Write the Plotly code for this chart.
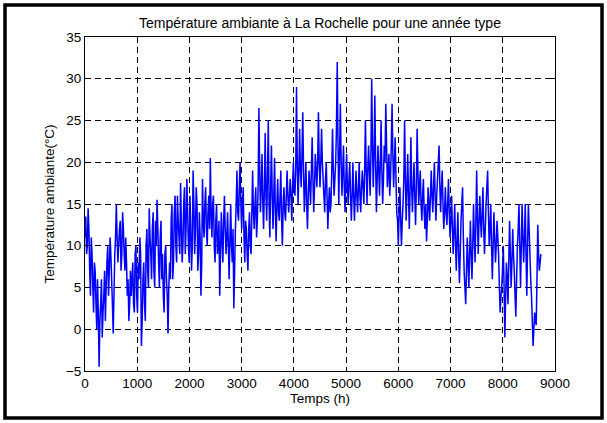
import plotly.graph_objects as go

# Ambient temperature over a typical year (°C).
# temp_c: readings every 30 h starting at 0 h;
# temp_c_mid: readings halfway between them (15 h, 45 h, ...).
step_h = 30
temp_c = [
    11, 9, 14.5, 7, 11, 5, 8, 3, 6, -4.5,
    3, -1, 4, 1, 8, 4, 11, 6, -0.5, 9,
    15, 8, 12, 7, 14, 9, 11, 4, 1, 7,
    6, 3, 9, 4, 8, 11, -2, 6, 3, 10,
    7, 14.5, 9, 12, 7, 13, 15.5, 8, 11, 6,
    4, 9, 6, -0.5, 8, 13, 6, 14, 10, 16,
    11, 17.5, 8, 15, 9, 18, 10, 16, 7, 19,
    9, 17, 7, 14, 4, 18, 11, 17, 10, 16,
    20.5, 11, 16, 8, 15, 10, 4, 14, 8, 16,
    9, 14, 6, 15, 8, 2.5, 12, 19, 13, 20,
    12, 17, 8, 12, 7, 14, 9, 19, 12, 17,
    13, 26.5, 14, 21, 12, 23.5, 13, 25, 11, 22,
    12, 20.5, 10.5, 18, 13, 19, 10, 17, 13, 19,
    14, 18, 13, 20, 16, 29, 15, 24, 17, 26,
    14, 20, 12, 19, 15, 23, 14, 21, 17, 26,
    17, 24, 18, 14, 20, 12, 17, 15, 24, 16,
    20, 32, 15, 27, 16, 22, 14, 21, 15, 20,
    13, 20, 13, 19, 14, 20, 14, 19, 15, 25,
    15, 22, 16, 30, 17, 28, 14, 22, 16, 25,
    15, 22, 27, 17, 21, 18, 27, 17, 23, 14,
    10, 17, 10, 15, 25, 13, 21, 12, 23, 14,
    20, 12.5, 24, 15, 19, 13, 18, 12, 10.5, 17,
    13, 19, 14, 20, 13, 18, 22, 14, 19, 12,
    17, 12.5, 18, 11, 16, 9, 15, 7, 14, 5.5,
    13, 17, 7, 3, 11, 5, 13, 6, 15, 8,
    19, 9, 16, 11, 17, 9, 15, 19, 10, 15,
    6, 14, 8, 13, 9, 2, 5, 10, -1, 8,
    3, 13, 5, 12, 7, 1.5, 10, 15, 5, 15,
    8, 15, 4, 15, 9, 4, -2, 2, 0.5, 12.5, 7, 9,
]
temp_c_mid = [
    13.5, 10, 12, 4, 9, 2, 7, 0, 2, 1,
    6, 2, 7, 5, 10, 7, 9, 3, 4, 11,
    11, 10, 13, 9, 12, 7, 8, 6, 3, 4,
    8, 2, 10, 2, 6, 9, 1, 8, 1, 12,
    5, 11, 6, 14, 5, 10, 12, 5, 13, 9,
    2, 10, 4, 5, 6, 15, 8, 16, 8, 13,
    9, 13, 10, 17, 12, 14, 8, 12, 10, 15,
    12, 15, 9, 11, 8, 13, 15, 12, 14, 12,
    14, 15, 10, 13, 9, 13, 9, 11, 13, 12,
    11, 10, 11, 10, 12, 7, 15, 14, 17, 15,
    15, 11, 13, 9, 12, 10, 14, 14, 15, 11,
    17, 19, 17, 15, 17, 16, 19, 15, 17, 16,
    16, 14, 15, 14, 16, 13, 15, 14, 16, 16,
    16, 16, 17, 17, 19, 20, 19, 19, 21, 19,
    17, 15, 16, 17, 19, 18, 17, 19, 20, 20,
    20, 20, 16, 18, 16, 15, 14, 19, 19, 18,
    24, 22, 21, 20, 19, 17, 18, 17, 18, 16,
    16, 16, 16, 16, 17, 16, 17, 17, 19, 19,
    19, 19, 21, 22, 21, 20, 18, 19, 20, 19,
    18, 20, 22, 19, 16, 22, 21, 20, 18, 13,
    14, 13, 13, 18, 18, 17, 16, 17, 17, 17,
    16, 17, 19, 17, 15, 16, 14, 15, 13, 15,
    16, 16, 17, 16, 16, 20, 17, 17, 15, 14,
    14, 15, 14, 13, 12, 12, 10, 11, 9, 9,
    15, 11, 5, 7, 8, 9, 9, 10, 11, 13,
    13, 13, 13, 14, 12, 12, 17, 14, 12, 10,
    10, 11, 10, 11, 5, 4, 7, 5, 4, 6,
    8, 9, 8, 9, 4, 6, 12, 10, 10, 11,
    11, 9, 10, 12, 6, 1, 0, 1, 6, 9, 8,
]

# Interleave the two readings into one time series
hours, temps = [], []
for i, t in enumerate(temp_c):
    hours.append(i * step_h)
    temps.append(t)
    if i < len(temp_c_mid):
        hours.append(i * step_h + step_h // 2)
        temps.append(temp_c_mid[i])

x_ticks = list(range(0, 9001, 1000))
y_ticks = list(range(-5, 36, 5))

font = dict(family="Liberation Sans, Arial, sans-serif", size=13.5, color="black")

fig = go.Figure(
    go.Scatter(x=hours, y=temps, mode="lines",
               line=dict(color="#0000ff", width=1.5, simplify=False))
)

axis_style = dict(
    showline=True, linecolor="black", linewidth=1, mirror="ticks",
    ticks="inside", ticklen=4, tickcolor="black", tickwidth=1,
    showgrid=True, gridcolor="black", gridwidth=1, griddash="6px,4px",
    zeroline=False, tickfont=font,
)

fig.update_layout(
    width=607, height=423,
    margin=dict(l=85, r=52, t=37, b=52),
    paper_bgcolor="white", plot_bgcolor="white",
    showlegend=False,
    font=font,
    title=dict(text="Température ambiante à La Rochelle pour une année type",
               x=0.5, xref="paper", y=1 - 23 / 423, yref="container",
               xanchor="center", yanchor="middle",
               font=dict(family=font["family"], size=14, color="black")),
    xaxis=dict(range=[0, 9000], tickvals=x_ticks,
               title=dict(text="Temps (h)", font=font, standoff=2), **axis_style),
    yaxis=dict(range=[-5, 35], tickvals=y_ticks,
               title=dict(text="Température ambiante(°C)", font=font, standoff=8),
               **axis_style),
    shapes=[dict(type="rect", xref="paper", yref="paper",
                 x0=-0.1702, x1=1.1, y0=-0.1407, y1=1.0958,
                 line=dict(color="black", width=3.5), layer="above")],
)

fig.write_html("out.html")
